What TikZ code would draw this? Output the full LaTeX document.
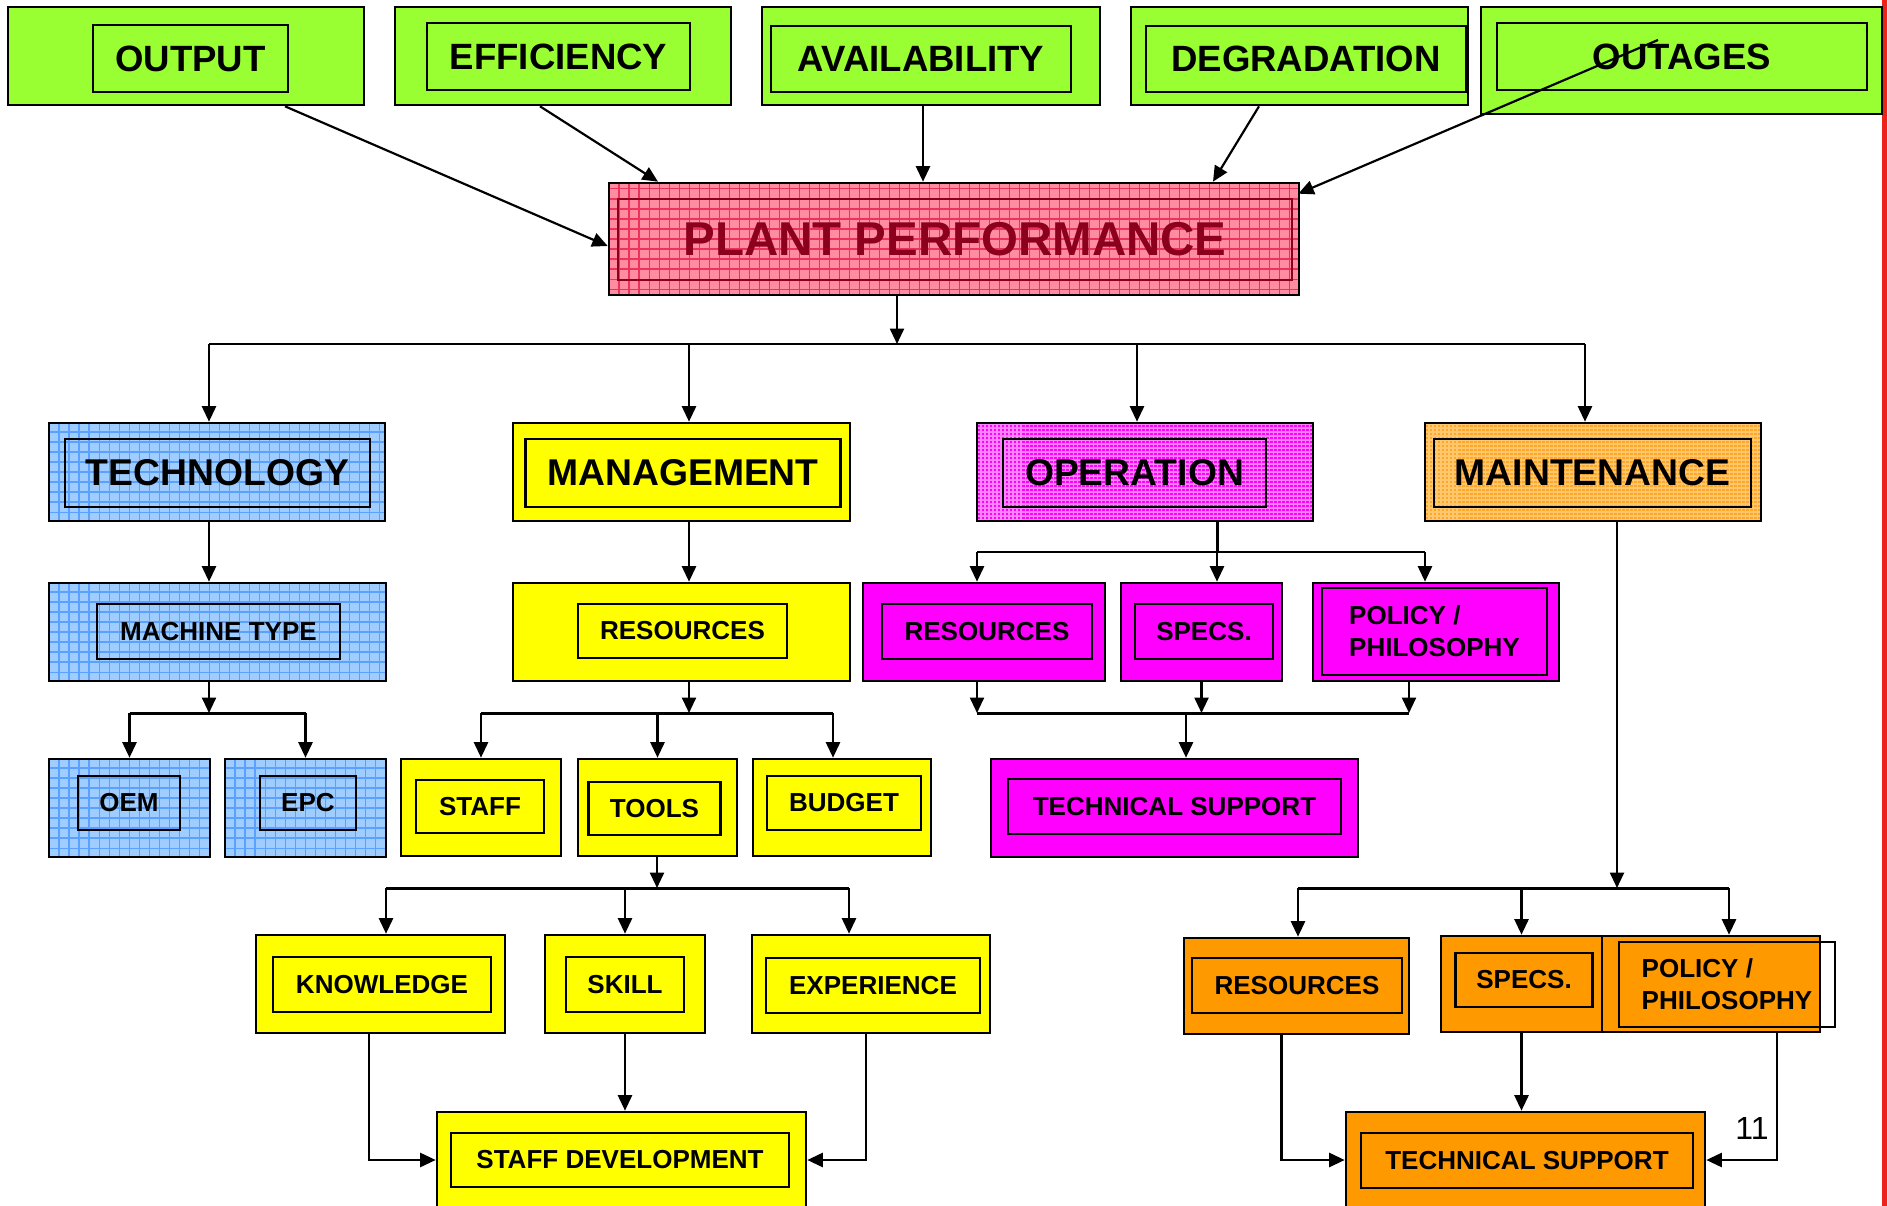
\documentclass[tikz,border=0pt]{standalone}
\usepackage{fontspec}
\setmainfont{Liberation Sans}
\usetikzlibrary{fit,calc,arrows.meta}
\definecolor{limeg}{RGB}{153,255,51}
\definecolor{plantred}{RGB}{255,140,160}
\definecolor{plantgrid}{RGB}{235,50,90}
\definecolor{plantdark}{RGB}{140,0,30}
\definecolor{techblue}{RGB}{160,205,255}
\definecolor{techgrid}{RGB}{90,160,255}
\definecolor{mgmtyellow}{RGB}{255,255,0}
\definecolor{opmag}{RGB}{255,0,255}
\definecolor{opgrid}{RGB}{255,130,255}
\definecolor{mntorange}{RGB}{255,153,0}
\definecolor{mntlight}{RGB}{255,165,40}
\definecolor{mntgrid}{RGB}{255,200,110}
\definecolor{edgered}{RGB}{235,35,25}
\tikzset{
  box/.style={draw=black, line width=0.75pt, inner sep=0pt},
  lbl/.style={draw=black, line width=0.7pt, inner sep=0pt, align=center, font=\fontsize{7.4}{9}\selectfont\bfseries},
  toplbl/.style={lbl, font=\fontsize{10.4}{12}\selectfont\bfseries},
  hatched/.style n args={3}{fill=#1, path picture={\draw[#2, line width=0.3pt, step=#3] (path picture bounding box.south west) grid (path picture bounding box.north east);}},
  arr/.style={-{Triangle[length=4.4pt,width=4pt]}, line width=0.62pt},
  bus/.style={line width=0.85pt}
}
\begin{document}
\begin{tikzpicture}[x=0.01cm, y=-0.01cm]
\useasboundingbox (0,0) rectangle (1887,1206);
\fill[edgered] (1882,0) rectangle (1887,1206);

\node[box, fill=limeg, fit={(8,7) (364,105)}] (output) {};
\node[toplbl, minimum width=1.95cm, minimum height=0.67cm] (outputin) at (190.5,58.5) {OUTPUT};
\node[box, fill=limeg, fit={(395,7) (731,105)}] (effic) {};
\node[toplbl, minimum width=2.63cm, minimum height=0.67cm] (efficin) at (558.5,56.5) {EFFICIENCY};
\node[box, fill=limeg, fit={(762,7) (1100,105)}] (avail) {};
\node[toplbl, minimum width=3cm, minimum height=0.66cm] (availin) at (921,59) {AVAILABILITY};
\node[box, fill=limeg, fit={(1131,7) (1468,105)}] (degr) {};
\node[toplbl, minimum width=3.2cm, minimum height=0.66cm] (degrin) at (1306,59) {DEGRADATION};
\node[box, fill=limeg, fit={(1481,7) (1882,114)}] (outages) {};
\node[toplbl, minimum width=3.7cm, minimum height=0.67cm] (outagesin) at (1682,56.5) {OUTAGES};

\node[box, hatched={plantred}{plantgrid}{0.1cm}, fit={(609,183) (1299,295)}] (plant) {};
\node[lbl, draw=plantdark, text=plantdark, font=\fontsize{13.5}{16}\selectfont\bfseries, minimum width=6.74cm, minimum height=0.81cm] (plantin) at (955,239.5) {PLANT PERFORMANCE};

\node[box, hatched={techblue}{techgrid}{0.1cm}, fit={(49,423) (385,521)}] (tech) {};
\node[toplbl, font=\fontsize{10.6}{12}\selectfont\bfseries, minimum width=3.05cm, minimum height=0.68cm] (techin) at (217.5,473) {TECHNOLOGY};
\node[box, fill=mgmtyellow, fit={(513,423) (850,521)}] (mgmt) {};
\node[toplbl, font=\fontsize{10.6}{12}\selectfont\bfseries, minimum width=3.15cm, minimum height=0.68cm] (mgmtin) at (683,473) {MANAGEMENT};
\node[box, hatched={opmag}{opgrid}{0.04cm}, fit={(977,423) (1313,521)}] (oper) {};
\node[toplbl, font=\fontsize{10.6}{12}\selectfont\bfseries, minimum width=2.63cm, minimum height=0.68cm] (operin) at (1134.5,473) {OPERATION};
\node[box, hatched={mntlight}{mntgrid}{0.04cm}, fit={(1425,423) (1761,521)}] (maint) {};
\node[toplbl, font=\fontsize{10.6}{12}\selectfont\bfseries, minimum width=3.17cm, minimum height=0.68cm] (maintin) at (1592.5,473) {MAINTENANCE};

\node[box, hatched={techblue}{techgrid}{0.1cm}, fit={(49,583) (386,681)}] (machine) {};
\node[lbl, minimum width=2.43cm, minimum height=0.55cm] (machinein) at (218.5,631.5) {MACHINE TYPE};
\node[box, fill=mgmtyellow, fit={(513,583) (850,681)}] (mres) {};
\node[lbl, minimum width=2.09cm, minimum height=0.54cm] (mresin) at (682.5,631) {RESOURCES};
\node[box, fill=opmag, fit={(863,583) (1105,681)}] (ores) {};
\node[lbl, minimum width=2.1cm, minimum height=0.55cm] (oresin) at (987,631.5) {RESOURCES};
\node[box, fill=opmag, fit={(1121,583) (1282,681)}] (ospecs) {};
\node[lbl, minimum width=1.38cm, minimum height=0.55cm] (ospecsin) at (1204,631.5) {SPECS.};
\node[box, fill=opmag, fit={(1313,583) (1559,681)}] (opolicy) {};
\node[lbl, align=left, minimum width=2.25cm, minimum height=0.87cm] (opolicyin) at (1434.5,631.5) {POLICY /\\PHILOSOPHY};

\node[box, hatched={techblue}{techgrid}{0.1cm}, fit={(49,759) (210,857)}] (oem) {};
\node[lbl, minimum width=1.02cm, minimum height=0.54cm] (oemin) at (129,803) {OEM};
\node[box, hatched={techblue}{techgrid}{0.1cm}, fit={(225,759) (386,857)}] (epc) {};
\node[lbl, minimum width=0.96cm, minimum height=0.54cm] (epcin) at (308,803) {EPC};
\node[box, fill=mgmtyellow, fit={(401,759) (561,856)}] (staff) {};
\node[lbl, minimum width=1.28cm, minimum height=0.53cm] (staffin) at (480,806.5) {STAFF};
\node[box, fill=mgmtyellow, fit={(578,759) (737,856)}] (tools) {};
\node[lbl, minimum width=1.32cm, minimum height=0.53cm] (toolsin) at (654.5,808.5) {TOOLS};
\node[box, fill=mgmtyellow, fit={(753,759) (931,856)}] (budget) {};
\node[lbl, minimum width=1.54cm, minimum height=0.54cm] (budgetin) at (844,803) {BUDGET};
\node[box, fill=opmag, fit={(991,759) (1358,857)}] (otech) {};
\node[lbl, minimum width=3.33cm, minimum height=0.55cm] (otechin) at (1174.5,806.5) {TECHNICAL SUPPORT};

\node[box, fill=mgmtyellow, fit={(256,935) (505,1033)}] (know) {};
\node[lbl, minimum width=2.18cm, minimum height=0.55cm] (knowin) at (382,984.5) {KNOWLEDGE};
\node[box, fill=mgmtyellow, fit={(545,935) (705,1033)}] (skill) {};
\node[lbl, minimum width=1.18cm, minimum height=0.55cm] (skillin) at (625,984.5) {SKILL};
\node[box, fill=mgmtyellow, fit={(752,935) (990,1033)}] (exper) {};
\node[lbl, minimum width=2.14cm, minimum height=0.55cm] (experin) at (873,985.5) {EXPERIENCE};
\node[box, fill=mntorange, fit={(1184,938) (1409,1034)}] (rres) {};
\node[lbl, minimum width=2.1cm, minimum height=0.55cm] (rresin) at (1297,985.5) {RESOURCES};
\node[box, fill=mntorange, fit={(1588,936) (1820,1032)}] (rpolicy) {};
\node[box, fill=mntorange, fit={(1441,936) (1602,1032)}] (rspecs) {};
\node[lbl, minimum width=1.37cm, minimum height=0.54cm] (rspecsin) at (1524,980) {SPECS.};
\node[lbl, align=left, minimum width=2.16cm, minimum height=0.85cm] (rpolicyin) at (1727,984.5) {POLICY /\\PHILOSOPHY};

\node[box, fill=mgmtyellow, fit={(437,1112) (806,1208)}] (sdev) {};
\node[lbl, minimum width=3.38cm, minimum height=0.54cm] (sdevin) at (620,1160) {STAFF DEVELOPMENT};
\node[box, fill=mntorange, fit={(1346,1112) (1705,1208)}] (rtech) {};
\node[lbl, minimum width=3.32cm, minimum height=0.55cm] (rtechin) at (1527,1160.5) {TECHNICAL SUPPORT};

\draw[arr] ($(output.south)+(99,0)$) -- ($(plant.west)+(0,7)$);
\draw[arr] ($(effic.south)+(-23,0)$) -- ($(plant.north)+(-296,0)$);
\draw[arr] ($(avail.south)+(-8,0)$) -- ($(plant.north)+(-31,0)$);
\draw[arr] ($(degr.south)+(-40.5,0)$) -- ($(plant.north)+(259,0)$);
\draw[arr] ($(outages.center)+(-23.5,-20.5)$) -- ($(plant.north east)+(-2,12)$);

\coordinate (tbus) at (897,344);
\coordinate (b1l) at (209,344);
\coordinate (b1m) at (689,344);
\coordinate (b1o) at (1137,344);
\coordinate (b1r) at (1585,344);
\draw[arr] (tbus |- plant.south) -- (tbus);
\draw[bus] (b1l) -- (b1r);
\draw[arr] (b1l) -- (b1l |- tech.north);
\draw[arr] (b1m) -- (b1m |- mgmt.north);
\draw[arr] (b1o) -- (b1o |- oper.north);
\draw[arr] (b1r) -- (b1r |- maint.north);

\draw[arr] (b1l |- tech.south) -- (b1l |- machine.north);
\draw[arr] (b1m |- mgmt.south) -- (b1m |- mres.north);

\coordinate (ob) at (1217,552);
\coordinate (obl) at (977,552);
\coordinate (obr) at (1425,552);
\draw[bus] (ob |- oper.south) -- (ob);
\draw[bus] (obl) -- (obr);
\draw[arr] (obl) -- (obl |- ores.north);
\draw[arr] (ob) -- (ob |- ospecs.north);
\draw[arr] (obr) -- (obr |- opolicy.north);

\coordinate (tb) at (209,713);
\draw[arr] (tb |- machine.south) -- (tb);
\draw[bus] (oem.north |- tb) -- (epc.north |- tb);
\draw[arr] (oem.north |- tb) -- (oem.north);
\draw[arr] (epc.north |- tb) -- (epc.north);

\coordinate (rb) at (689,713);
\coordinate (rbr) at (833,713);
\draw[arr] (rb |- mres.south) -- (rb);
\draw[bus] (staff.north |- rb) -- (rbr);
\draw[arr] (staff.north |- rb) -- (staff.north);
\draw[arr] (tools.north |- rb) -- (tools.north);
\draw[arr] (rbr) -- (rbr |- budget.north);

\coordinate (sbl) at (977,713);
\coordinate (sbr) at (1409,713);
\coordinate (sb) at (1186,713);
\draw[arr] (sbl |- ores.south) -- (sbl);
\draw[arr] (ospecs.south) -- (ospecs.south |- sbl);
\draw[arr] (sbr |- opolicy.south) -- (sbr);
\draw[bus] (sbl) -- (sbr);
\draw[arr] (sb) -- (sb |- otech.north);

\coordinate (kb) at (657,888);
\coordinate (kbl) at (386,888);
\coordinate (kbr) at (849,888);
\draw[arr] (kb |- tools.south) -- (kb);
\draw[bus] (kbl) -- (kbr);
\draw[arr] (kbl) -- (kbl |- know.north);
\draw[arr] (skill.north |- kb) -- (skill.north);
\draw[arr] (kbr) -- (kbr |- exper.north);

\coordinate (mb) at (1617,888);
\coordinate (mbl) at (1298,888);
\coordinate (mbr) at (1729,888);
\draw[arr] (mb |- maint.south) -- (mb);
\draw[bus] (mbl) -- (mbr);
\draw[arr] (mbl) -- (mbl |- rres.north);
\draw[arr] (rspecs.north |- mb) -- (rspecs.north);
\draw[arr] (mbr) -- (mbr |- rpolicy.north);

\draw[arr] ($(know.south)+(-11.5,0)$) |- (sdev.west);
\draw[arr] (skill.south) -- (skill.south |- sdev.north);
\draw[arr] ($(exper.south)+(-5,0)$) |- (sdev.east);
\draw[arr] ($(rres.south)+(-15,0)$) |- (rtech.west);
\draw[arr] (rspecs.south) -- (rspecs.south |- rtech.north);
\draw[arr] ($(rpolicy.south)+(73,0)$) |- (rtech.east);

\node[anchor=east, font=\fontsize{9.1}{11}\selectfont] (pagenum) at (1781,1128) {11};
\end{tikzpicture}
\end{document}
